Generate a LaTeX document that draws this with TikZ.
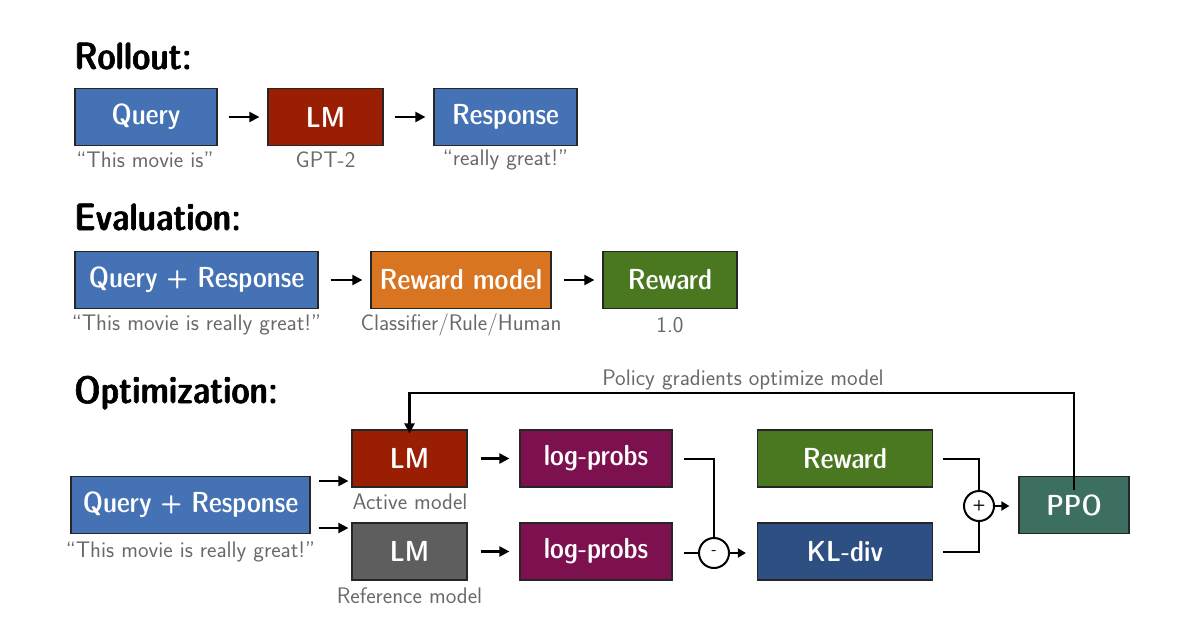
\documentclass[tikz,border=0pt]{standalone}
\usepackage{fontspec}
\newfontfamily\dc{lmsansdemicond10-regular.otf}
\newfontfamily\dch[FakeBold=1.6]{lmsansdemicond10-regular.otf}
\usetikzlibrary{arrows.meta}
\definecolor{cblue}{RGB}{68,114,180}
\definecolor{cred}{RGB}{153,30,2}
\definecolor{corange}{RGB}{217,116,33}
\definecolor{cgreen}{RGB}{74,120,32}
\definecolor{cpurple}{RGB}{125,17,80}
\definecolor{cnavy}{RGB}{46,79,130}
\definecolor{cteal}{RGB}{60,110,98}
\definecolor{cgray}{RGB}{94,94,94}
\definecolor{captc}{RGB}{105,105,105}
\tikzset{
  box/.style={draw=black!85, line width=1.2pt, text=white, inner sep=0pt, minimum height=57pt, font=\dc\fontsize{29}{32}\selectfont},
  captext/.style={text=captc, inner sep=0pt, font=\sffamily\fontsize{22.5}{25}\selectfont},
  head/.style={anchor=base west, inner sep=0pt, font=\dch\fontsize{38}{42}\selectfont},
  arr/.style={-{Triangle[length=10pt,width=10pt]}, line width=2.2pt},
  sarr/.style={-{Triangle[length=8pt,width=9pt]}, line width=2pt},
  ln/.style={line width=2pt},
  opc/.style={circle, draw=black, line width=2pt, minimum size=30pt, inner sep=0pt, fill=white, font=\sffamily\bfseries\fontsize{15}{15}\selectfont}
}
\begin{document}
\begin{tikzpicture}[x=1pt,y=-1pt]
\useasboundingbox (0,0) rectangle (1200,630);
% headings
\node[head] (h1) at (74,69) {Rollout:};
\node[head] (h2) at (74,230) {Evaluation:};
\node[head] (h3) at (74,403) {Optimization:};
% Rollout
\node[box, fill=cblue, minimum width=142pt] (q1) at (146,117) {Query};
\node[box, fill=cred, minimum width=115pt] (lm1) at (325.5,117) {LM};
\node[box, fill=cblue, minimum width=143pt] (r1) at (505.5,117) {Response};
\node[captext] (q1c) at (145,160) {``This movie is''};
\node[captext] (lm1c) at (325.5,160) {GPT-2};
\node[captext] (r1c) at (505.5,160) {``really great!''};
\draw[arr] ([xshift=11pt]q1.east) -- ([xshift=-8pt]lm1.west);
\draw[arr] ([xshift=11pt]lm1.east) -- ([xshift=-8pt]r1.west);
% Evaluation
\node[box, fill=cblue, minimum width=243pt] (q2) at (196.5,280) {Query + Response};
\node[box, fill=corange, minimum width=180pt] (rm) at (461,280) {Reward model};
\node[box, fill=cgreen, minimum width=134pt] (rw) at (670,280) {Reward};
\node[captext] (q2c) at (196.5,325) {``This movie is really great!''};
\node[captext] (rmc) at (461,325) {Classifier/Rule/Human};
\node[captext] (rwc) at (670,325) {1.0};
\draw[arr] ([xshift=12pt]q2.east) -- ([xshift=-8pt]rm.west);
\draw[arr] ([xshift=12pt]rm.east) -- ([xshift=-8pt]rw.west);
% Optimization
\node[box, fill=cblue, minimum width=239pt] (q3) at (190.5,505) {Query + Response};
\node[captext] (q3c) at (190.5,552) {``This movie is really great!''};
\node[box, fill=cred, minimum width=115pt] (lma) at (409.5,458.5) {LM};
\node[captext] (lmac) at (410,502) {Active model};
\node[box, fill=cgray, minimum width=115pt] (lmr) at (409.5,551.5) {LM};
\node[captext] (lmrc) at (409.5,596) {Reference model};
\node[box, fill=cpurple, minimum width=152pt] (lp1) at (596,458.5) {log-probs};
\node[box, fill=cpurple, minimum width=152pt] (lp2) at (596,551.5) {log-probs};
\node[box, fill=cgreen, minimum width=175pt] (rw3) at (845,458.5) {Reward};
\node[box, fill=cnavy, minimum width=175pt] (kl) at (845,551.5) {KL-div};
\node[box, fill=cteal, minimum width=110pt] (ppo) at (1074,505) {PPO};
\node[opc] (minus) at (714,553) {-};
\node[opc] (plus) at (979,506) {+};
\coordinate (qa) at ([xshift=8pt]q3.east |- 0,481);
\coordinate (qb) at ([xshift=8pt]q3.east |- 0,528);
\draw[arr] (qa) -- ([xshift=-3pt]lma.west |- qa);
\draw[arr] (qb) -- ([xshift=-3pt]lmr.west |- qb);
\draw[arr] ([xshift=13pt]lma.east) -- ([xshift=-10pt]lp1.west);
\draw[arr] ([xshift=13pt]lmr.east) -- ([xshift=-10pt]lp2.west);
\draw[ln] ([xshift=11pt]lp1.east) -| (minus.north);
\draw[ln] ([xshift=11pt]lp2.east |- minus) -- (minus.west);
\draw[sarr] (minus.east) -- ([xshift=-11pt]kl.west |- minus);
\draw[ln] ([xshift=10pt]rw3.east) -| (plus.north);
\draw[ln] ([xshift=10pt]kl.east) -| (plus.south);
\draw[sarr] (plus.east) -- ([xshift=-9pt]ppo.west |- plus);
\coordinate (pt) at ([yshift=-14pt]ppo.north);
\draw[arr] (pt) -- (pt |- 0,393) -| ([yshift=-4pt]lma.north);
\node[captext] (pg) at (743,380) {Policy gradients optimize model};
\end{tikzpicture}
\end{document}
